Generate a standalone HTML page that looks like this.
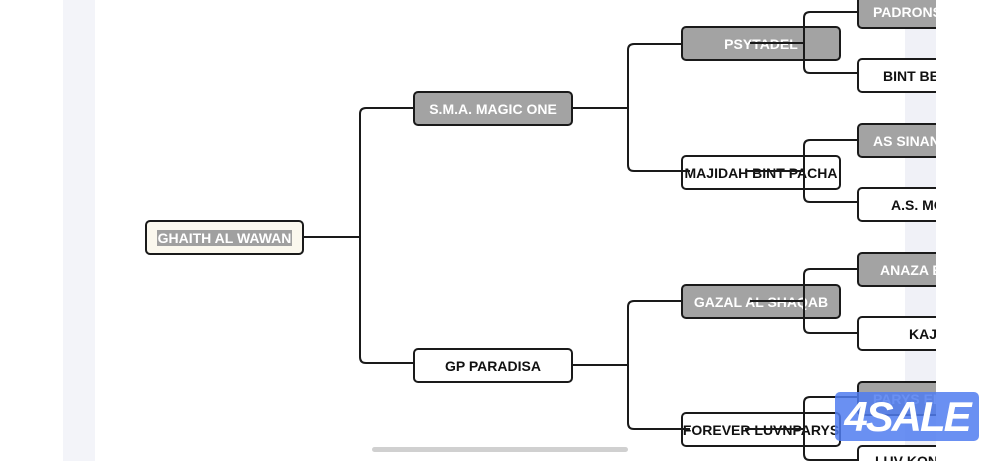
<!DOCTYPE html>
<html><head><meta charset="utf-8"><style>
html,body{margin:0;width:1000px;height:461px;overflow:hidden;background:#fff}
#r{position:relative;width:1000px;height:461px;overflow:hidden;font-family:"Liberation Sans",sans-serif}
.b{position:absolute;box-sizing:border-box;border:2px solid #1a1a1a;border-radius:5px;height:35px;display:flex;align-items:center;justify-content:center;font-weight:bold;font-size:14px;white-space:nowrap;overflow:hidden}
.g{background:#a3a3a3;color:#fff}
.w{background:#fff;color:#111}
</style></head><body><div id="r">
<div style="position:absolute;left:63px;top:0;width:32px;height:461px;background:#f3f4f9"></div>
<div style="position:absolute;left:905px;top:0;width:31px;height:461px;background:#f0f1f7"></div>
<div style="position:absolute;left:372px;top:447px;width:256px;height:5px;border-radius:3px;background:#d0d0d0"></div>
<svg width="1000" height="461" style="position:absolute;left:0;top:0" fill="none" stroke="#1a1a1a" stroke-width="2">
<path d="M303 237H360"/>
<path d="M413 108H366Q360 108 360 114V357Q360 363 366 363H413"/>
<path d="M572 108H628"/>
<path d="M681 44H634Q628 44 628 50V165Q628 171 634 171H681"/>
<path d="M572 365H628"/>
<path d="M681 301H634Q628 301 628 307V423Q628 429 634 429H681"/>
</svg>
<div class="b" style="left:145px;top:220px;width:159px;background:#fbf8ee;color:#fff"><span style="background:#a0a0a0;padding:0 1px">GHAITH AL WAWAN</span></div>
<div class="b g" style="left:413px;top:91px;width:160px">S.M.A. MAGIC ONE</div>
<div class="b w" style="left:413px;top:348px;width:160px">GP PARADISA</div>
<div class="b g" style="left:681px;top:26px;width:160px">PSYTADEL</div>
<div class="b w" style="left:681px;top:155px;width:160px;overflow:visible">MAJIDAH BINT PACHA</div>
<div class="b g" style="left:681px;top:284px;width:160px">GAZAL AL SHAQAB</div>
<div class="b w" style="left:681px;top:412px;width:160px;overflow:visible">FOREVER LUVNPARYS</div>
<div class="b g" style="left:857px;top:-6px;width:100px;justify-content:flex-start;padding-left:14px">PADRONS</div>
<div class="b w" style="left:857px;top:58px;width:100px;justify-content:flex-start;padding-left:24px">BINT BE</div>
<div class="b g" style="left:857px;top:123px;width:100px;justify-content:flex-start;padding-left:14px">AS SINAN</div>
<div class="b w" style="left:857px;top:187px;width:100px;justify-content:flex-start;padding-left:32px">A.S. MO</div>
<div class="b g" style="left:857px;top:252px;width:100px;justify-content:flex-start;padding-left:21px">ANAZA B</div>
<div class="b w" style="left:857px;top:316px;width:100px;justify-content:flex-start;padding-left:50px">KAJO</div>
<div class="b g" style="left:857px;top:381px;width:100px;justify-content:flex-start;padding-left:14px">PARYS EL</div>
<div class="b w" style="left:857px;top:445px;width:100px;justify-content:flex-start;padding-left:16px;align-items:flex-start;padding-top:6px">LUV KON</div>
<div style="position:absolute;left:936px;top:0;width:64px;height:461px;background:#fff"></div>
<svg width="1000" height="461" style="position:absolute;left:0;top:0" fill="none" stroke="#1a1a1a" stroke-width="2">
<path d="M750 43H804"/>
<path d="M857 12H810Q804 12 804 18V67Q804 73 810 73H857"/>
<path d="M745 171H804"/>
<path d="M857 140H810Q804 140 804 146V196Q804 202 810 202H857"/>
<path d="M750 301H804"/>
<path d="M857 269H810Q804 269 804 275V327Q804 333 810 333H857"/>
<path d="M745 429H804"/>
<path d="M857 397H810Q804 397 804 403V454Q804 460 810 460H857"/>
<path d="M672 171H690"/><path d="M672 429H690"/>
</svg>
<div style="position:absolute;left:835px;top:392px;width:144px;height:49px;border-radius:5px;background:rgba(80,125,240,0.85);color:#fff;font-weight:bold;font-style:italic;font-size:42px;line-height:49px;text-align:center;letter-spacing:-2px">4SALE</div>
</div></body></html>
